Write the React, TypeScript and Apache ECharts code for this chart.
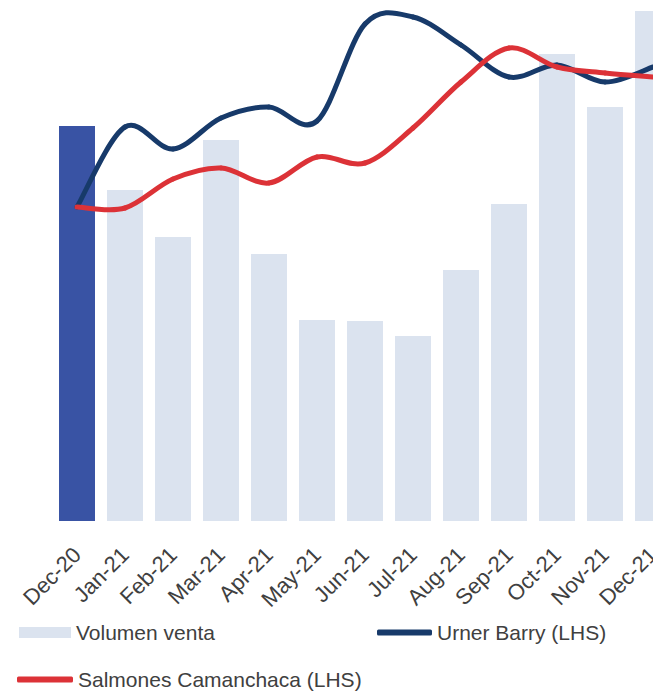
import React, { useEffect, useRef } from "react";
import * as echarts from "echarts";

const categories = [
  "Dec-20", "Jan-21", "Feb-21", "Mar-21", "Apr-21", "May-21", "Jun-21",
  "Jul-21", "Aug-21", "Sep-21", "Oct-21", "Nov-21", "Dec-21",
];

// Volumen venta (RHS, relative units)
const volumenVenta = [395, 331, 284, 381, 267, 201, 200, 185, 251, 317, 467, 414, 510];

// Urner Barry (LHS)
const urnerBarry = [3.14, 3.94, 3.72, 4.03, 4.14, 4.0, 4.97, 5.04, 4.76, 4.44, 4.56, 4.39, 4.54];

// Salmones Camanchaca (LHS)
const camanchaca = [3.14, 3.13, 3.42, 3.53, 3.38, 3.64, 3.58, 3.93, 4.39, 4.73, 4.54, 4.48, 4.44];

const BAR_LIGHT = "#dbe3ef";
const BAR_DARK = "#3953a4";
const NAVY = "#173a6a";
const RED = "#dc3237";
const TEXT = "#404040";
const FONT = "'Liberation Sans', Arial, sans-serif";

function smoothLine(name: string, values: number[], color: string, z: number) {
  const n = values.length;
  const ci = (k: number) => Math.max(0, Math.min(n - 1, k));
  return {
    name,
    type: "custom",
    yAxisIndex: 0,
    silent: true,
    clip: true,
    z,
    itemStyle: { color },
    encode: { x: 0, y: 1 },
    data: values.map((v, i) => [i, v]),
    renderItem: (params: any, api: any) => {
      const i = params.dataIndex;
      if (i >= n - 1) return { type: "group", children: [] };
      const P = (k: number) => api.coord([ci(k), values[ci(k)]]);
      const p0 = P(i - 1), p1 = P(i), p2 = P(i + 1), p3 = P(i + 2);
      const t = 1 / 6;
      return {
        type: "bezierCurve",
        z2: 10,
        shape: {
          x1: p1[0], y1: p1[1],
          x2: p2[0], y2: p2[1],
          cpx1: p1[0] + (p2[0] - p0[0]) * t,
          cpy1: p1[1] + (p2[1] - p0[1]) * t,
          cpx2: p2[0] - (p3[0] - p1[0]) * t,
          cpy2: p2[1] - (p3[1] - p1[1]) * t,
        },
        style: { stroke: color, lineWidth: 5, fill: null, lineCap: "round" },
      };
    },
  };
}

export default function App() {
  const ref = useRef<HTMLDivElement>(null);

  useEffect(() => {
    if (!ref.current) return;
    const chart = echarts.init(ref.current, undefined, { renderer: "svg" });
    const legendText = { color: TEXT, fontSize: 21, fontFamily: FONT };
    chart.setOption({
      animation: false,
      backgroundColor: "#ffffff",
      grid: {
        left: 53, top: 0, width: 624, height: 521,
        containLabel: false, outerBoundsMode: "none",
      },
      xAxis: {
        type: "category",
        data: categories,
        boundaryGap: true,
        axisLine: { show: false },
        axisTick: { show: false },
        axisLabel: {
          interval: 0,
          rotate: 45,
          margin: 30,
          color: TEXT,
          fontSize: 22,
          fontFamily: FONT,
        },
      },
      yAxis: [
        { type: "value", min: 0, max: 5.21, show: false, splitLine: { show: false } },
        { type: "value", min: 0, max: 521, show: false, splitLine: { show: false } },
      ],
      legend: [
        {
          left: 14, top: 617, selectedMode: false,
          itemWidth: 52, itemHeight: 11,
          textStyle: legendText,
          data: [{ name: "Volumen venta", icon: "rect", itemStyle: { color: BAR_LIGHT } }],
        },
        {
          left: 372, top: 617, selectedMode: false,
          itemWidth: 55, itemHeight: 6,
          textStyle: legendText,
          data: [{ name: "Urner Barry (LHS)", icon: "roundRect", itemStyle: { color: NAVY } }],
        },
        {
          left: 12, top: 664, selectedMode: false,
          itemWidth: 56, itemHeight: 6,
          textStyle: legendText,
          data: [{ name: "Salmones Camanchaca (LHS)", icon: "roundRect", itemStyle: { color: RED } }],
        },
      ],
      series: [
        {
          name: "Volumen venta",
          type: "bar",
          yAxisIndex: 1,
          barWidth: 36,
          z: 1,
          itemStyle: { color: BAR_LIGHT },
          data: volumenVenta.map((v, i) =>
            i === 0 ? { value: v, itemStyle: { color: BAR_DARK } } : v
          ),
        },
        smoothLine("Urner Barry (LHS)", urnerBarry, NAVY, 5),
        smoothLine("Salmones Camanchaca (LHS)", camanchaca, RED, 6),
      ],
    });
    return () => chart.dispose();
  }, []);

  return (
    <div
      ref={ref}
      style={{ position: "fixed", left: 0, top: 0, width: 653, height: 691 }}
    />
  );
}
